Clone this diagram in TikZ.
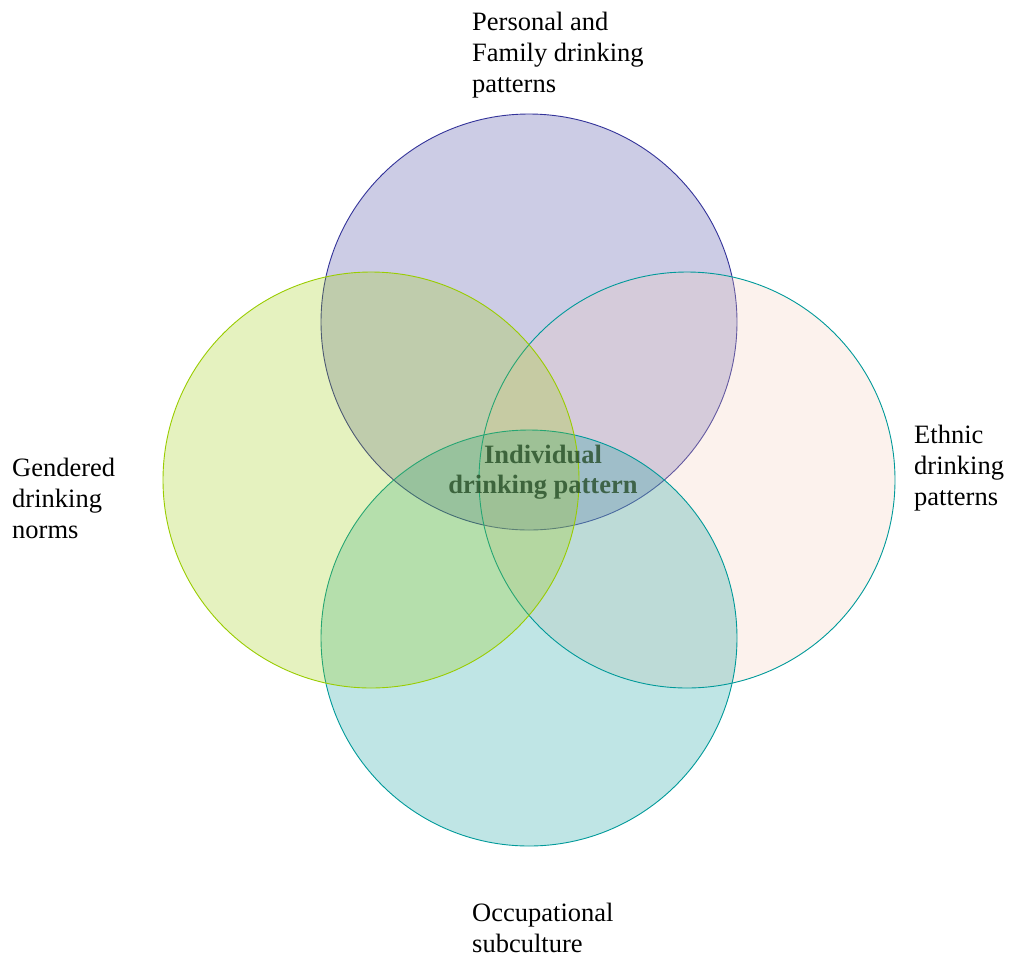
\documentclass[tikz,border=0pt]{standalone}
\usepackage{fontspec}
\setmainfont{Liberation Serif}
\begin{document}
\begin{tikzpicture}[x=1pt,y=-1pt,
  venn/.style={circle, minimum size=416pt, inner sep=0pt, line width=0.9pt, fill opacity=0.25},
  lbl/.style={anchor=base west, inner sep=0pt, font=\fontsize{26.5}{31}\selectfont, align=left},
  ctr/.style={anchor=base, inner sep=0pt, font=\fontsize{26.5}{30}\selectfont\bfseries, align=center, text=ctrtext, text opacity=0.75}]
\definecolor{topfill}{RGB}{51,51,153}
\definecolor{topdraw}{RGB}{51,51,153}
\definecolor{leftfill}{RGB}{153,204,0}
\definecolor{leftdraw}{RGB}{153,204,0}
\definecolor{rightfill}{RGB}{243,203,183}
\definecolor{rightdraw}{RGB}{0,153,153}
\definecolor{botfill}{RGB}{0,153,153}
\definecolor{botdraw}{RGB}{0,153,153}
\definecolor{ctrtext}{RGB}{30,70,30}
\useasboundingbox (0,0) rectangle (1009,956);
\node[venn, draw=topdraw, fill=topfill] (ctop) at (529,322) {};
\node[venn, draw=rightdraw, fill=rightfill] (cright) at (687,480) {};
\node[venn, draw=botdraw, fill=botfill] (cbot) at (529,638) {};
\node[venn, draw=leftdraw, fill=leftfill] (cleft) at (371,480) {};
\node[ctr] (center) at (543,493) {Individual\\drinking pattern};
\node[lbl] (ltop) at (472,92) {Personal and\\Family drinking\\patterns};
\node[lbl] (lright) at (914,505) {Ethnic\\drinking\\patterns};
\node[lbl] (lleft) at (12,538) {Gendered\\drinking\\norms};
\node[lbl] (lbot) at (472,952) {Occupational\\subculture};
\end{tikzpicture}
\end{document}
